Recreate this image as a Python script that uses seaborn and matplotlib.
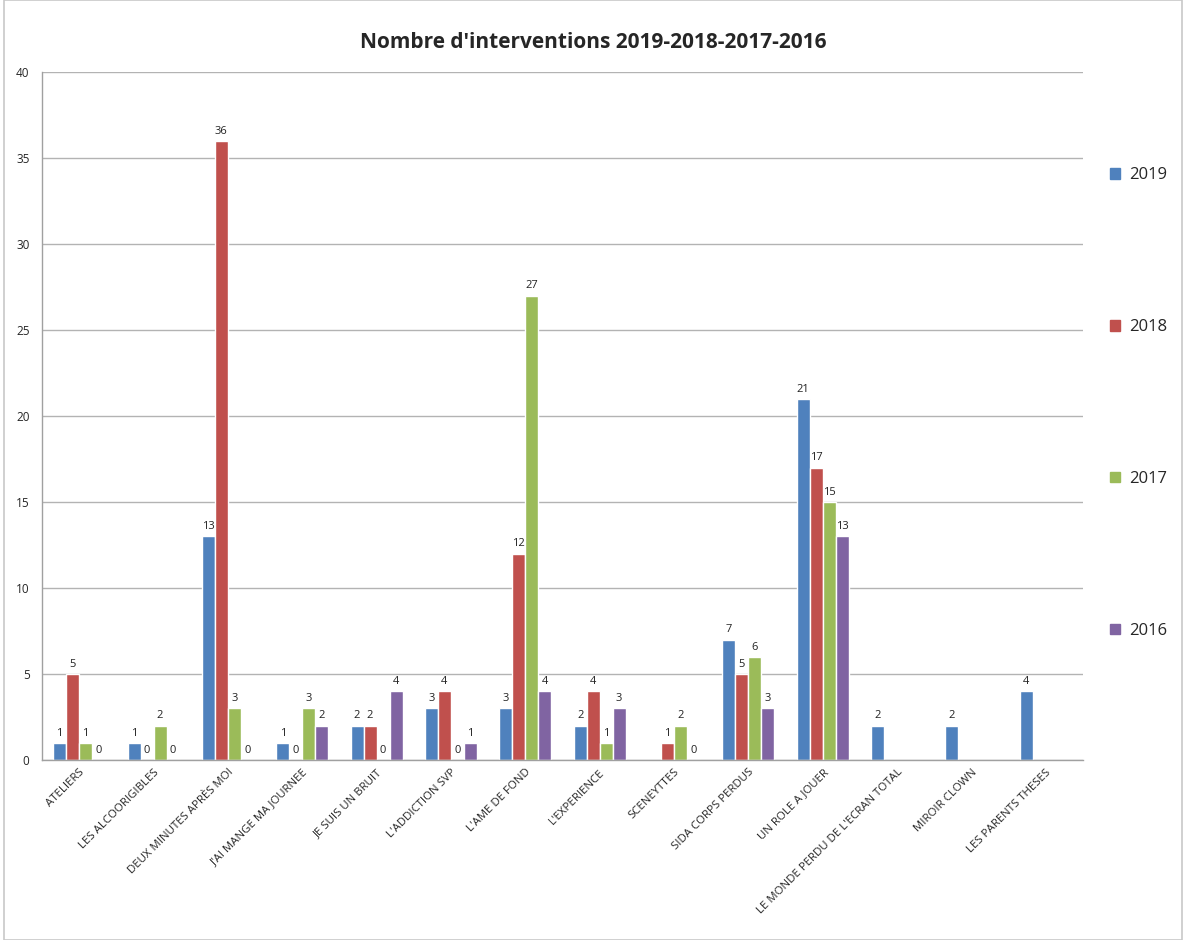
import numpy as np
import pandas as pd
import matplotlib
matplotlib.use("Agg")
import matplotlib.pyplot as plt
import seaborn as sns

categories = ["ATELIERS", "LES ALCOORIGIBLES", "DEUX MINUTES APRÈS MOI",
              "J'AI MANGE MA JOURNEE", "JE SUIS UN BRUIT", "L'ADDICTION SVP",
              "L'AME DE FOND", "L'EXPERIENCE", "SCENEYTTES", "SIDA CORPS PERDUS",
              "UN ROLE A JOUER", "LE MONDE PERDU DE L'ECRAN TOTAL",
              "MIROIR CLOWN", "LES PARENTS THESES"]
years = ["2019", "2018", "2017", "2016"]
nan = np.nan
v2019 = [1, 1, 13, 1, 2, 3, 3, 2, nan, 7, 21, 2, 2, 4]
v2018 = [5, 0, 36, 0, 2, 4, 12, 4, 1, 5, 17, nan, nan, nan]
v2017 = [1, 2, 3, 3, 0, 0, 27, 1, 2, 6, 15, nan, nan, nan]
v2016 = [0, 0, 0, 2, 4, 1, 4, 3, 0, 3, 13, nan, nan, nan]
colors = ["#4F81BD", "#C0504D", "#9BBB59", "#8064A2"]

rows = []
for y, vals in zip(years, [v2019, v2018, v2017, v2016]):
    for c, v in zip(categories, vals):
        if not np.isnan(v):
            rows.append({"cat": c, "year": y, "val": v})
df = pd.DataFrame(rows)

sns.set_theme(style="white")
plt.rcParams['font.family'] = ["Open Sans", "DejaVu Sans"]

fig = plt.figure(figsize=(11.86, 9.4), dpi=100)
ax = fig.add_axes([42/1186, 1-760/940, (1083-42)/1186, (760-72)/940])

sns.barplot(data=df, x="cat", y="val", hue="year", order=categories,
            hue_order=years, palette=colors, width=0.7, ax=ax,
            saturation=1, legend=False, errorbar=None)

for cont in ax.containers:
    ax.bar_label(cont, fmt="%g", padding=3, fontsize=8, color="#222222")

ax.set_ylim(0, 40)
ax.set_yticks(range(0, 41, 5))
ax.set_xlim(-0.5, len(categories) - 0.5)
ax.yaxis.grid(True, color="#b3b3b3", linewidth=1)
ax.set_axisbelow(True)
ax.set_xlabel("")
ax.set_ylabel("")
for s in ["top", "right"]:
    ax.spines[s].set_visible(False)
for s in ["left", "bottom"]:
    ax.spines[s].set_color("#a0a0a0")
    ax.spines[s].set_linewidth(1)
ax.tick_params(axis="y", labelsize=8.5, length=0, pad=9)
ax.tick_params(axis="x", labelsize=8.2, length=0, pad=5)
ax.set_xticks(range(len(categories)))
ax.set_xticklabels(categories, rotation=45, ha="right", rotation_mode="anchor")

fig.text(0.5, 1-42/940, "Nombre d'interventions 2019-2018-2017-2016",
         ha="center", va="center", fontsize=15, fontweight="bold")

handles = [plt.Rectangle((0, 0), 1, 1, color=c) for c in colors]
fig.legend(handles, years, loc="upper left", bbox_to_anchor=(1102/1186, 1-159/940),
           frameon=False, fontsize=12, handlelength=0.6, handleheight=0.6,
           handletextpad=0.5, labelspacing=8.15, borderpad=0)

fig.patches.append(plt.Rectangle((4/1186, 0), 1 - 8/1186, 1, transform=fig.transFigure,
                                 fill=False, edgecolor="#c8c8c8", linewidth=1.2))

fig.savefig("out.png", dpi=100)
